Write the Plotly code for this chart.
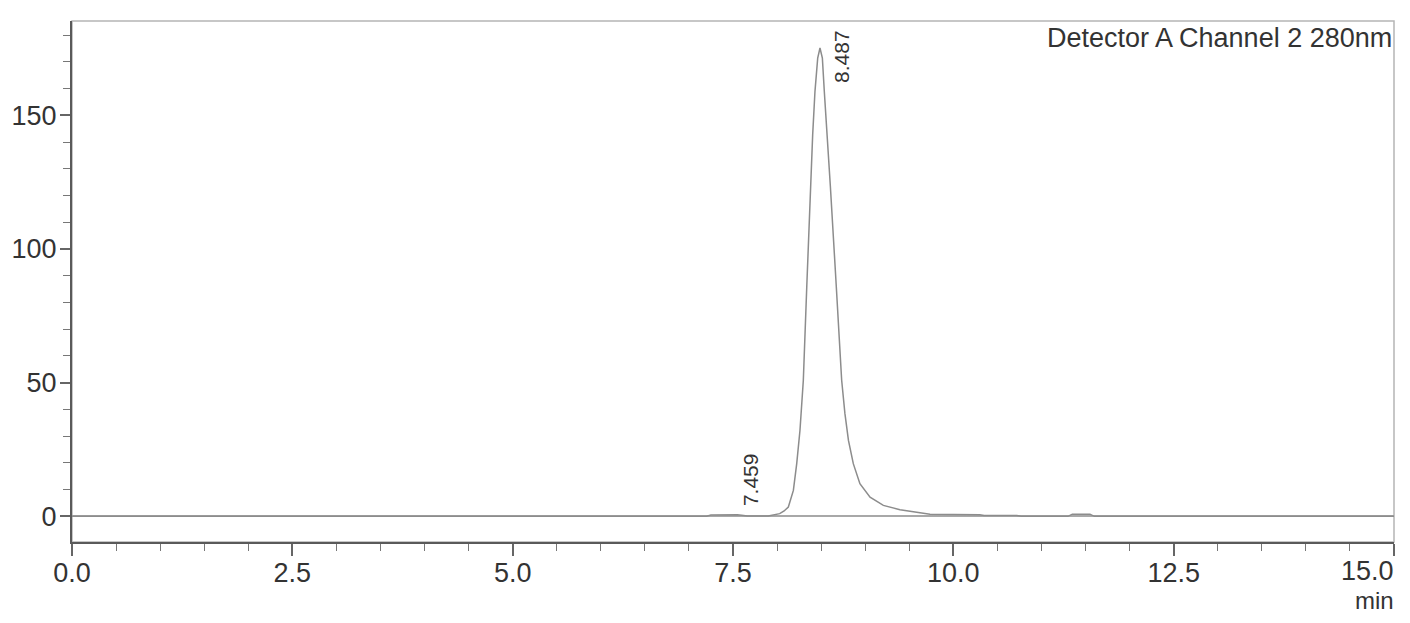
import plotly.graph_objects as go

# Chromatogram trace (time in min, detector response)
time_min = [0.0, 7.20, 7.25, 7.40, 7.55, 7.62, 7.66, 7.90, 7.96, 8.03, 8.08, 8.128,
            8.185, 8.223, 8.26, 8.298, 8.337, 8.38, 8.404, 8.43, 8.461, 8.487, 8.514,
            8.536, 8.57, 8.605, 8.672, 8.733, 8.77, 8.81, 8.865, 8.94, 9.055, 9.206,
            9.395, 9.62, 9.735, 10.0, 10.3, 10.35, 10.72, 10.77, 11.3, 11.35, 11.55,
            11.6, 15.0]
signal = [0, 0, 0.5, 0.6, 0.6, 0.3, 0.1, 0.1, 0.4, 1.0, 2.0, 3.5,
          9.7, 19.7, 32.2, 50.9, 86.0, 123.7, 142.7, 158.9, 171.4, 175.2, 171.4,
          158.9, 142.7, 123.3, 86.0, 50.9, 38.4, 28.4, 19.7, 12.2, 7.2, 4.1,
          2.5, 1.2, 0.75, 0.7, 0.6, 0.3, 0.3, 0.0, 0.0, 0.8, 0.8,
          0.0, 0.0]

# Peak labels
peak_times = [7.459, 8.487]
peak_heights = [0.6, 175.2]
peak_labels = ["7.459", "8.487"]

x_ticks = [0.0, 2.5, 5.0, 7.5, 10.0, 12.5, 15.0]
x_ticklabels = ["0.0", "2.5", "5.0", "7.5", "10.0", "12.5", ""]
x_last_label = "15.0"
y_ticks = [0, 50, 100, 150]
y_ticklabels = ["0", "50", "100", "150"]

FONT = "Liberation Sans"
TXT = "#333333"
FS = 27

fig = go.Figure()
fig.add_trace(go.Scatter(
    x=time_min, y=signal, mode="lines",
    line=dict(color="#8c8c8c", width=1.5),
    hoverinfo="skip", showlegend=False,
))

# peak annotations (rotated)
peak_yshift = [35, -8]
for t, h, lab, ys in zip(peak_times, peak_heights, peak_labels, peak_yshift):
    fig.add_annotation(
        x=t, y=h, text=lab, showarrow=False, textangle=-90,
        xanchor="center", yanchor="middle", xshift=21, yshift=ys,
        font=dict(family=FONT, size=21, color=TXT),
    )

fig.add_annotation(
    xref="paper", yref="paper", x=1, y=1, xanchor="right", yanchor="top",
    text="Detector A Channel 2 280nm", showarrow=False, xshift=0, yshift=0,
    font=dict(family=FONT, size=FS, color=TXT),
)
# last x tick label, kept inside the frame as in the original
fig.add_annotation(
    xref="paper", yref="paper", x=1, y=0, xanchor="right", yanchor="middle",
    text=x_last_label, showarrow=False, xshift=2, yshift=-29,
    font=dict(family=FONT, size=FS, color=TXT),
)
fig.add_annotation(
    xref="paper", yref="paper", x=1, y=0, xanchor="right", yanchor="middle",
    text="min", showarrow=False, xshift=2, yshift=-58,
    font=dict(family=FONT, size=24, color=TXT),
)

# light top/right frame
fig.add_shape(type="rect", xref="paper", yref="paper", x0=0, y0=0, x1=1, y1=1,
              line=dict(color="#b5b5b5", width=1.5), layer="below")

fig.update_layout(
    width=1394, height=607,
    margin=dict(l=64, r=8, t=13, b=73, autoexpand=False),
    paper_bgcolor="white", plot_bgcolor="white",
    font=dict(family=FONT, size=FS, color=TXT),
    showlegend=False,
    xaxis=dict(
        range=[0, 15], tickvals=x_ticks, ticktext=x_ticklabels,
        showgrid=False, zeroline=False, automargin=False,
        showline=True, linecolor="#5a5a5a", linewidth=2,
        ticks="outside", ticklen=12, tickwidth=1.5, tickcolor="#666666",
        ticklabelstandoff=-6,
        minor=dict(dtick=0.5, ticks="outside", ticklen=7, tickwidth=1.2,
                   tickcolor="#777777", showgrid=False),
        tickfont=dict(family=FONT, size=FS, color=TXT),
    ),
    yaxis=dict(
        range=[-9.6, 185.3], tickvals=y_ticks, ticktext=y_ticklabels,
        showgrid=False, zeroline=True, zerolinecolor="#a8a8a8", zerolinewidth=2,
        showline=True, linecolor="#5a5a5a", linewidth=2, automargin=False,
        ticks="outside", ticklen=10, tickwidth=1.5, tickcolor="#666666",
        ticklabelstandoff=-2,
        minor=dict(dtick=10, ticks="outside", ticklen=7, tickwidth=1.2,
                   tickcolor="#777777", showgrid=False),
        tickfont=dict(family=FONT, size=FS, color=TXT),
    ),
)

fig.write_html("out.html")
